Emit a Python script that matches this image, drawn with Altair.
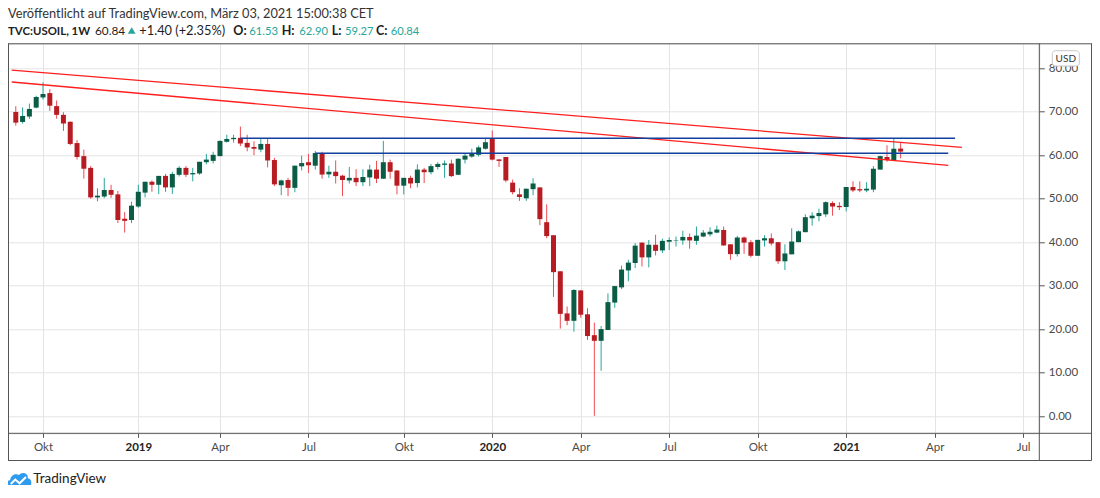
import altair as alt
import pandas as pd

# ---------------- data (weekly candles, TVC:USOIL, from Sep 2018) ----------------
opens = [69.96, 67.66, 68.9, 70.96, 73.3, 74.3, 71.3, 69.3, 67.7, 62.8,
         59.8, 57.1, 50.3, 50.5, 52.0, 51.0, 45.4, 45.1, 48.2, 51.4,
         53.9, 53.2, 55.25, 52.6, 55.5, 57.1, 55.6, 55.8, 58.4, 58.7,
         59.8, 63.1, 63.7, 64.0, 62.85, 61.9, 61.3, 62.6, 58.9, 53.1,
         54.3, 52.5, 57.45, 58.4, 57.6, 60.5, 55.6, 56.2, 55.3, 54.2,
         54.8, 53.8, 54.9, 56.7, 54.6, 58.4, 56.5, 53.0, 54.8, 53.6,
         56.7, 56.1, 57.3, 57.8, 58.1, 55.5, 59.0, 59.7, 60.1, 61.5,
         63.8, 59.04, 59.6, 53.7, 51.0, 50.1, 52.2, 52.6, 44.6, 41.6,
         33.3, 23.6, 21.9, 28.9, 23.4, 18.6, 17.3, 19.8, 26.1, 29.6,
         33.5, 35.2, 39.9, 36.5, 39.4, 38.1, 40.1, 40.4, 40.4, 41.2,
         40.3, 41.3, 41.8, 42.2, 42.8, 39.5, 37.25, 41.07, 40.0, 36.87,
         40.4, 40.9, 40.0, 35.6, 37.2, 40.0, 42.3, 45.5, 46.0, 46.4,
         49.0, 48.35, 48.1, 52.7, 52.2, 51.9, 52.1, 56.7, 59.6, 58.9,
         61.53]
highs = [71.3, 71.03, 71.9, 73.7, 76.8, 75.2, 72.6, 69.9, 67.8, 63.5,
         61.3, 57.5, 52.4, 54.8, 53.2, 51.8, 46.9, 49.3, 53.2, 53.9,
         54.2, 55.25, 55.7, 56.2, 57.5, 57.5, 57.1, 58.5, 60.3, 60.8,
         63.4, 64.7, 64.7, 66.6, 64.7, 63.2, 63.9, 63.9, 59.4, 54.4,
         54.8, 57.6, 59.9, 60.3, 61.0, 60.8, 57.6, 58.8, 55.5, 57.3,
         56.8, 56.8, 57.8, 58.7, 63.3, 59.0, 56.5, 54.8, 55.3, 57.9,
         57.1, 58.0, 58.4, 58.8, 59.0, 59.3, 60.5, 61.5, 62.2, 63.9,
         65.7, 59.1, 59.6, 54.4, 52.4, 52.3, 54.7, 52.6, 48.7, 41.6,
         33.3, 25.2, 29.2, 28.9, 24.8, 21.5, 20.7, 28.2, 29.9, 34.6,
         35.95, 39.8, 39.9, 40.5, 41.7, 40.8, 41.1, 41.3, 42.6, 42.0,
         43.6, 42.8, 43.4, 43.8, 43.6, 39.5, 41.45, 41.3, 40.5, 40.53,
         41.6, 42.0, 40.0, 39.5, 43.2, 42.7, 46.4, 46.9, 47.7, 49.4,
         49.4, 49.2, 52.7, 54.0, 54.0, 53.8, 57.5, 59.9, 62.3, 63.9,
         62.90]
lows = [66.8, 67.28, 68.35, 70.8, 72.8, 70.2, 68.4, 65.6, 62.3, 59.0,
        54.6, 50.0, 49.4, 50.1, 50.2, 44.4, 42.2, 44.4, 47.9, 50.3,
        51.6, 51.1, 51.6, 51.1, 55.1, 55.0, 54.0, 55.5, 57.9, 58.1,
        59.8, 62.9, 62.9, 62.1, 60.9, 60.0, 60.7, 57.2, 52.9, 50.8,
        50.6, 51.5, 56.5, 55.9, 56.7, 54.6, 54.8, 53.5, 50.6, 53.5,
        52.9, 52.9, 52.9, 53.6, 54.6, 54.6, 51.0, 51.0, 52.4, 52.6,
        53.6, 55.6, 56.7, 54.8, 55.0, 55.5, 58.1, 59.4, 59.7, 61.3,
        58.8, 57.3, 53.8, 51.0, 49.5, 49.5, 50.8, 43.9, 40.9, 27.4,
        20.1, 20.9, 19.4, 22.6, 17.5, 0.04, 10.4, 19.8, 24.9, 29.2,
        31.0, 34.05, 34.4, 34.2, 36.95, 37.5, 38.2, 39.0, 39.4, 38.5,
        39.4, 41.15, 41.3, 42.06, 39.2, 35.95, 36.7, 37.3, 36.5, 36.87,
        39.0, 39.2, 35.0, 33.6, 37.2, 40.0, 42.3, 43.8, 44.8, 45.8,
        46.1, 47.4, 47.05, 51.5, 51.5, 51.5, 51.5, 56.7, 58.5, 58.9,
        59.27]
closes = [67.5, 69.04, 70.65, 73.4, 74.1, 71.4, 69.3, 67.3, 62.6, 59.6,
          56.9, 50.3, 50.7, 52.0, 50.9, 45.1, 44.9, 48.4, 51.6, 53.9,
          53.2, 55.25, 52.6, 55.7, 57.1, 55.5, 55.9, 58.5, 59.0, 60.1,
          63.3, 63.75, 64.0, 62.7, 61.8, 61.5, 62.6, 58.8, 53.3, 54.2,
          52.5, 57.6, 58.2, 57.7, 60.5, 55.55, 56.2, 55.2, 54.3, 54.8,
          53.8, 55.0, 56.7, 54.6, 58.4, 56.2, 53.0, 54.8, 53.5, 56.7,
          56.1, 57.5, 58.0, 58.1, 55.2, 59.2, 59.9, 60.5, 61.8, 63.0,
          59.0, 58.7, 54.2, 51.5, 50.4, 52.3, 53.5, 45.3, 41.4, 33.1,
          23.5, 21.9, 29.0, 23.3, 18.4, 17.3, 20.0, 26.2, 29.9, 33.7,
          35.3, 39.2, 36.5, 39.4, 38.0, 40.3, 40.5, 40.5, 41.2, 40.4,
          41.5, 42.2, 42.4, 42.9, 39.24, 37.25, 41.07, 39.9, 36.87, 40.53,
          40.9, 39.7, 35.6, 37.4, 40.15, 42.5, 45.75, 46.1, 46.7, 49.2,
          48.2, 48.05, 52.7, 51.9, 51.9, 52.3, 56.9, 59.8, 58.9, 61.5,
          60.84]

# x-axis labels sit on the first weekly bar of each month/year
tick_idx = [4, 18, 30, 43, 57, 70, 83, 96, 109, 122, 135, 148]
tick_lbl = ["Okt", "2019", "Apr", "Jul", "Okt", "2020", "Apr", "Jul", "Okt", "2021", "Apr", "Jul"]
year_idx = [18, 70, 122]
price_ticks = [0, 10, 20, 30, 40, 50, 60, 70, 80]

# drawn trend lines: anchors as (bar index, price)
red_line_idx = [[-0.6, 139], [-0.6, 137]]
red_line_price = [[79.6, 61.83], [76.85, 57.69]]
blue_line_idx = [[33, 138], [44, 137]]
blue_line_price = [[63.9, 63.9], [60.45, 60.45]]

# header texts
title_line = "Veröffentlicht auf TradingView.com, März 03, 2021 15:00:38 CET"
hdr_text = ["TVC:USOIL, 1W", "60.84", "+1.40 (+2.35%)", "O:", "61.53", "H:", "62.90",
            "L:", "59.27", "C:", "60.84"]

# ---------------- styling ----------------
FONT = "Lato"
DARK = "#1e1e1e"
TEAL = "#26a69a"
GRID = "#e4e4e4"
FRAME = "#555555"
UP_BODY, UP_WICK = "#0b5c45", "#26a69a"
DN_BODY, DN_WICK = "#b71c22", "#ef4a52"

W, H = 1031.3, 390
PAD = {"left": 0, "top": 35.3, "right": 52.7, "bottom": 51.7}

bars = pd.DataFrame({"idx": list(range(len(opens))), "open": opens, "high": highs,
                     "low": lows, "close": closes})

rows = []
for k, (ix, pr) in enumerate(zip(red_line_idx, red_line_price)):
    for a, b in zip(ix, pr):
        rows.append({"name": f"red{k}", "idx": a, "price": b})
red_df = pd.DataFrame(rows)
rows = []
for k, (ix, pr) in enumerate(zip(blue_line_idx, blue_line_price)):
    for a, b in zip(ix, pr):
        rows.append({"name": f"blue{k}", "idx": a, "price": b})
blue_df = pd.DataFrame(rows)

label_expr = "''"
for v, s in reversed(list(zip(tick_idx, tick_lbl))):
    label_expr = f"datum.value == {v} ? '{s}' : ({label_expr})"
year_test = " || ".join(f"datum.value == {v}" for v in year_idx)

xscale = alt.Scale(domain=[-0.409, 149.64], nice=False, zero=False)
yscale = alt.Scale(domain=[-3.98, 85.76], nice=False, zero=False)

xaxis = alt.Axis(values=tick_idx, labelExpr=label_expr, title=None, grid=True,
                 gridColor=GRID, gridWidth=1, domain=False, ticks=True, tickSize=4,
                 tickColor=FRAME, labelFont=FONT, labelFontSize=11.5,
                 labelColor={"condition": {"test": year_test, "value": "#222222"}, "value": "#4a4a4a"},
                 labelFontWeight={"condition": {"test": year_test, "value": "bold"}, "value": "normal"},
                 labelPadding=10, labelBaseline="middle", labelFlush=False,
                 labelOverlap=False, zindex=0)
yaxis = alt.Axis(orient="right", values=price_ticks, format=".2f", title=None, grid=True,
                 gridColor=GRID, gridWidth=1, domain=False, tickSize=5, tickColor=FRAME,
                 labelPadding=4, labelFont=FONT, labelFontSize=11.5, labelColor="#4a4a4a",
                 labelFlush=False, labelOverlap=False, zindex=0)

up = "datum.close >= datum.open"
base = alt.Chart(bars)
wicks = base.mark_rule(strokeWidth=1).encode(
    x=alt.X("idx:Q", scale=xscale, axis=xaxis),
    y=alt.Y("low:Q", scale=yscale, axis=yaxis),
    y2="high:Q",
    color=alt.condition(up, alt.value(UP_WICK), alt.value(DN_WICK)),
)
bodies = base.mark_bar(size=5).encode(
    x=alt.X("idx:Q", scale=xscale, axis=xaxis),
    y=alt.Y("open:Q", scale=yscale, axis=yaxis),
    y2="close:Q",
    color=alt.condition(up, alt.value(UP_BODY), alt.value(DN_BODY)),
)
red_lines = alt.Chart(red_df).mark_line(clip=True, strokeWidth=1.3, color="#ff1f1f").encode(
    x=alt.X("idx:Q", scale=xscale, axis=xaxis),
    y=alt.Y("price:Q", scale=yscale, axis=yaxis),
    detail="name:N",
)
blue_lines = alt.Chart(blue_df).mark_line(clip=True, strokeWidth=1.5, color="#12409e").encode(
    x=alt.X("idx:Q", scale=xscale, axis=xaxis),
    y=alt.Y("price:Q", scale=yscale, axis=yaxis),
    detail="name:N",
)

one = pd.DataFrame({"a": [0]})


def text(s, x, y, size=12.5, color=DARK, weight="normal", align="left",
         baseline="alphabetic", font=FONT):
    return alt.Chart(one).mark_text(align=align, baseline=baseline, font=font,
                                    fontSize=size, fontWeight=weight, color=color).encode(
        x=alt.value(x), y=alt.value(y), text=alt.value(s))


def rule(x, y, x2=None, y2=None):
    enc = {"x": alt.value(x), "y": alt.value(y)}
    if x2 is not None:
        enc["x2"] = alt.value(x2)
    if y2 is not None:
        enc["y2"] = alt.value(y2)
    return alt.Chart(one).mark_rule(color=FRAME, strokeWidth=1).encode(**enc)


hdr_x = [0, 87, 131.3, 225.3, 241.3, 273.7, 291.3, 323.7, 337, 368, 382.7]
hdr_size = [11.4, 11.8, 12.8, 12.5, 11.2, 12.5, 11.2, 12.5, 11.2, 12.5, 11.2]
hdr_bold = [True, False, False, True, False, True, False, True, False, True, False]
hdr_col = [DARK, DARK, DARK, DARK, TEAL, DARK, TEAL, DARK, TEAL, DARK, TEAL]

layers = [wicks, bodies, red_lines, blue_lines]

# frame
R = 1083.5
BOT = 417.2
layers += [
    rule(0.5, 0.5, x2=R),
    rule(0.5, 0, y2=BOT),
    rule(R, 0, y2=BOT),
    rule(0, BOT, x2=R),
    rule(0, H, x2=R),
    rule(W, 0, y2=BOT),
]

# header
layers.append(text(title_line, 0, -25.0, size=12.8, color="#333333"))
for s, x, sz, b, c in zip(hdr_text, hdr_x, hdr_size, hdr_bold, hdr_col):
    layers.append(text(s, x, -8.6, size=sz, color=c, weight="bold" if b else "normal"))
layers.append(alt.Chart(one).mark_point(shape="triangle-up", filled=True, size=60,
                                        color=TEAL, opacity=1).encode(
    x=alt.value(123.7), y=alt.value(-12.8)))

# USD badge
layers.append(alt.Chart(one).mark_rect(fill="white", stroke="#c8c8c8", strokeWidth=1,
                                       cornerRadius=3).encode(
    x=alt.value(1044.3), x2=alt.value(1071.3), y=alt.value(7.4), y2=alt.value(22.7)))
layers.append(text("USD", 1057.8, 15.3, size=10, color="#333333", align="center",
                   baseline="middle"))

# TradingView logo
cloud = ("M -0.8 0.55 C -1.05 0.55 -1.05 0.05 -0.7 0.05 C -0.65 -0.35 -0.25 -0.5 0.0 -0.35 "
         "C 0.2 -0.65 0.75 -0.55 0.7 -0.1 C 1.05 -0.1 1.05 0.55 0.8 0.55 Z")
zig = "M -0.65 0.35 L -0.3 0.0 L 0.05 0.3 L 0.55 -0.2"
layers.append(alt.Chart(one).mark_point(shape=cloud, filled=True, size=640, color="#2e9bef",
                                        opacity=1).encode(x=alt.value(11), y=alt.value(436.2)))
layers.append(alt.Chart(one).mark_point(shape=zig, filled=False, size=640, color="white",
                                        strokeWidth=2, opacity=1).encode(
    x=alt.value(11), y=alt.value(436.2)))
layers.append(text("TradingView", 25.3, 436, size=13.5, color="#222222", baseline="middle"))

chart = alt.layer(*layers).properties(
    width=W, height=H, padding=PAD, autosize="none"
).configure_view(stroke=None).configure(background="white")

chart.save("out.html", embed_options={"renderer": "svg", "actions": False})
